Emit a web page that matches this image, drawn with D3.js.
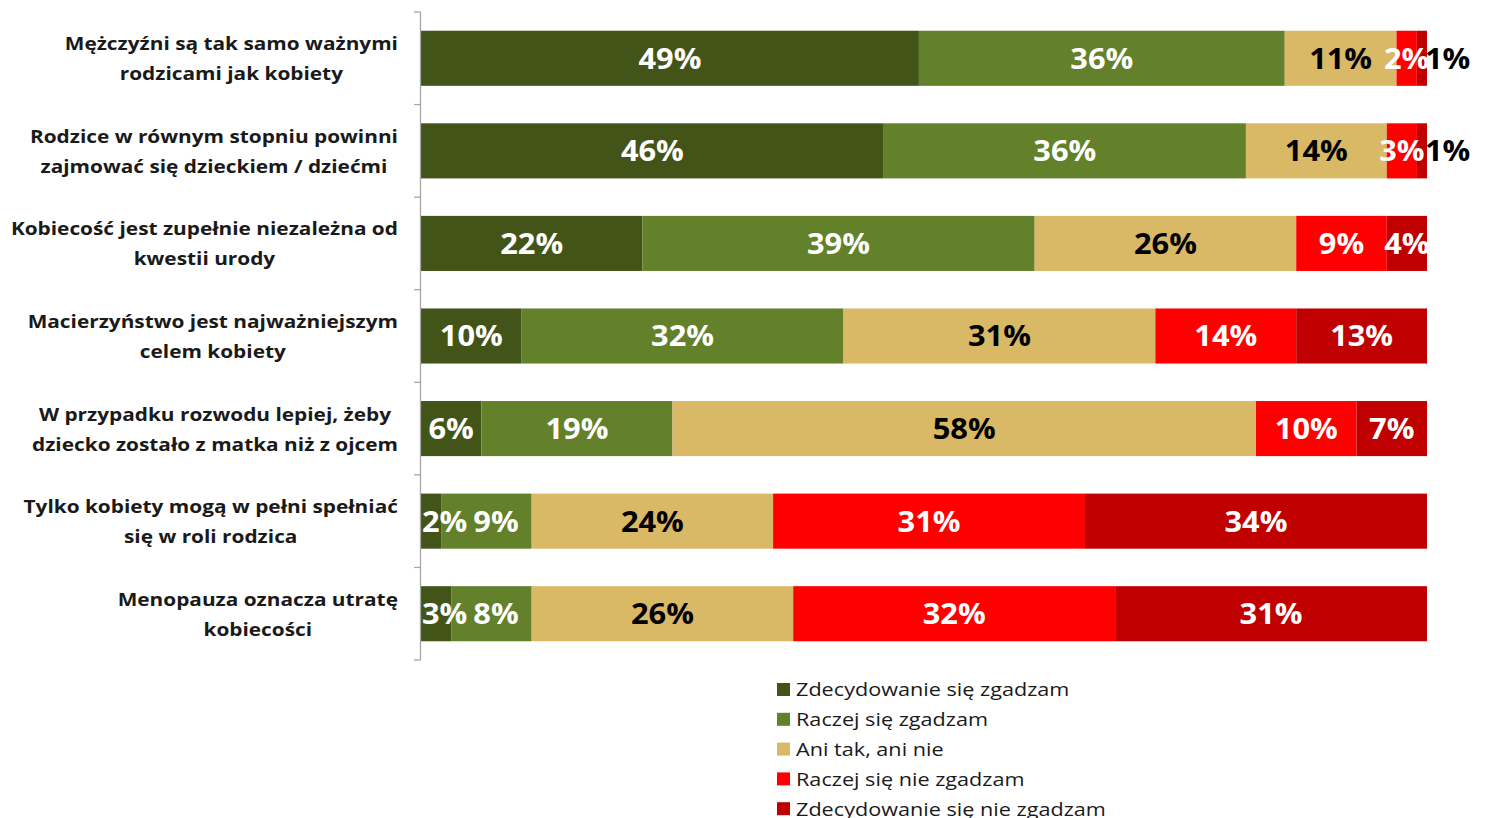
<!DOCTYPE html>
<html>
<head>
<meta charset="utf-8">
<script src="https://cdn.jsdelivr.net/npm/d3@7"></script>
<style>
  html, body { margin: 0; padding: 0; background: #ffffff; }
  svg { display: block; }
</style>
</head>
<body>
<svg id="chart" width="1485" height="818"></svg>
<script>
// Statements (two lines each) shown on the vertical axis, top to bottom
const statements = [
  ["Mężczyźni są tak samo ważnymi", "rodzicami jak kobiety"],
  ["Rodzice w równym stopniu powinni", "zajmować się dzieckiem / dziećmi"],
  ["Kobiecość jest zupełnie niezależna od", "kwestii urody"],
  ["Macierzyństwo jest najważniejszym", "celem kobiety"],
  ["W przypadku rozwodu lepiej, żeby", "dziecko zostało z matka niż z ojcem"],
  ["Tylko kobiety mogą w pełni spełniać", "się w roli rodzica"],
  ["Menopauza oznacza utratę", "kobiecości"]
];

// Answer categories (legend order)
const answers = [
  "Zdecydowanie się zgadzam",
  "Raczej się zgadzam",
  "Ani tak, ani nie",
  "Raczej się nie zgadzam",
  "Zdecydowanie się nie zgadzam"
];

// Percentages per answer, one value per statement
const stronglyAgree    = [49, 46, 22, 10, 6, 2, 3];
const ratherAgree      = [36, 36, 39, 32, 19, 9, 8];
const neither          = [11, 14, 26, 31, 58, 24, 26];
const ratherDisagree   = [2, 3, 9, 14, 10, 31, 32];
const stronglyDisagree = [1, 1, 4, 13, 7, 34, 31];

const colors = ["#435419", "#63802a", "#d9b866", "#ff0000", "#c00000"];
const labelColors = ["#ffffff", "#ffffff", "#000000", "#ffffff", "#ffffff"];

const series = [stronglyAgree, ratherAgree, neither, ratherDisagree, stronglyDisagree];
const keys = answers;
const rows = statements.map((s, i) => {
  const r = { id: i };
  keys.forEach((k, j) => { r[k] = series[j][i]; });
  return r;
});

// 100% stacked layout
const stacked = d3.stack().keys(keys).offset(d3.stackOffsetExpand)(rows);

const svg = d3.select("#chart");
const plot = { left: 421, right: 1427, top: 12, bottom: 660 };

const x = d3.scaleLinear().domain([0, 1]).range([plot.left, plot.right]);
const y = d3.scaleBand()
  .domain(d3.range(statements.length))
  .range([plot.top, plot.bottom])
  .paddingInner(0.405)
  .paddingOuter(0.2025);

const font = "'Open Sans', Lato, sans-serif";

// Segments
const layer = svg.append("g").selectAll("g")
  .data(stacked)
  .join("g")
  .attr("fill", (d, i) => colors[i]);

layer.selectAll("rect")
  .data(d => d)
  .join("rect")
  .attr("x", d => x(d[0]))
  .attr("width", d => x(d[1]) - x(d[0]))
  .attr("y", (d, i) => y(i))
  .attr("height", y.bandwidth());

// Value labels: centred on each segment, kept inside the plot on the left,
// nudged right when they would run into the previous label; tiny segments
// get their label just past the bar end
const labelScale = 1.1;
const labelG = svg.append("g");
statements.forEach((st, i) => {
  let prevRight = -Infinity;
  const cy = y(i) + y.bandwidth() / 2;
  stacked.forEach((s, si) => {
    const d = s[i];
    const v = series[si][i];
    const t = labelG.append("text")
      .attr("dominant-baseline", "central")
      .attr("text-anchor", "middle")
      .attr("font-family", font)
      .attr("font-weight", "bold")
      .attr("font-size", 28)
      .attr("fill", v < 2 ? "#000000" : labelColors[si])
      .text(v + "%");
    const w = t.node().getComputedTextLength() * labelScale;
    let cx = v < 2 ? x(d[1]) - 2 + w / 2 : (x(d[0]) + x(d[1])) / 2;
    cx = Math.max(cx, plot.left + 1 + w / 2);
    if (v >= 2 && si < 2) cx = Math.max(cx, prevRight + 6 + w / 2);
    prevRight = cx + w / 2;
    t.attr("transform", `translate(${cx},${cy}) scale(${labelScale},1)`);
  });
});

// Vertical category axis with boundary ticks
const axisG = svg.append("g").attr("stroke", "#a6a6a6").attr("stroke-width", 1.3);
axisG.append("line")
  .attr("x1", plot.left - 0.5).attr("x2", plot.left - 0.5)
  .attr("y1", plot.top).attr("y2", plot.bottom);
const bounds = d3.range(statements.length + 1).map(i => plot.top + i * y.step());
axisG.selectAll("line.tick")
  .data(bounds)
  .join("line")
  .attr("class", "tick")
  .attr("x1", plot.left - 7).attr("x2", plot.left - 0.5)
  .attr("y1", d => d).attr("y2", d => d);

// Category labels: centred lines, block aligned against the axis
const catScale = 1.12;
const catG = svg.append("g")
  .attr("font-family", font)
  .attr("font-weight", "bold")
  .attr("font-size", 18.6)
  .attr("fill", "#1a1a1a");
statements.forEach((lines, i) => {
  const cy = y(i) + y.bandwidth() / 2;
  const g = catG.append("g");
  const texts = lines.map((t, k) => g.append("text")
    .attr("dominant-baseline", "central")
    .attr("text-anchor", "middle")
    .text(t));
  const maxW = d3.max(texts, t => t.node().getComputedTextLength()) * catScale;
  texts.forEach((t, k) => {
    const ly = cy + (k - (lines.length - 1) / 2) * 30;
    t.attr("transform", `translate(${398 - maxW / 2},${ly}) scale(${catScale},1)`);
  });
});

// Legend
const legScale = 1.17;
const legend = svg.append("g").attr("transform", "translate(777,689)");
answers.forEach((a, i) => {
  const g = legend.append("g").attr("transform", `translate(0,${i * 29.8})`);
  g.append("rect").attr("x", 0).attr("y", -6).attr("width", 13).attr("height", 13).attr("fill", colors[i]);
  g.append("text")
    .attr("transform", `translate(19,0) scale(${legScale},1)`)
    .attr("dominant-baseline", "central")
    .attr("font-family", font)
    .attr("font-size", 18.5)
    .attr("fill", "#1a1a1a")
    .text(a);
});
</script>
</body>
</html>
